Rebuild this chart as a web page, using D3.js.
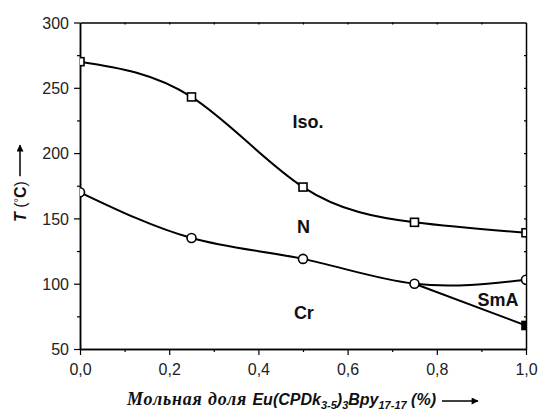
<!DOCTYPE html>
<html>
<head>
<meta charset="utf-8">
<script src="https://cdn.jsdelivr.net/npm/d3@7"></script>
<style>
  body { margin: 0; background: #fff; }
  svg { display: block; }
</style>
</head>
<body>
<div id="chart"></div>
<script>
// Mole fraction of the Eu complex
const fractions = [0, 0.25, 0.5, 0.75, 1.0];
// Clearing line (N -> Iso), squares
const clearTemps = [270, 243, 174, 147, 139];
// Melting line (Cr -> N / SmA), circles
const meltTemps = [170, 135, 119, 100, 103];
// Cr -> SmA line, ends with a filled square
const smaFractions = [0.75, 1.0];
const smaTemps = [100, 68];

const xTicks = [0, 0.2, 0.4, 0.6, 0.8, 1.0];
const yTicks = [50, 100, 150, 200, 250, 300];
const phaseNames = ["Iso.", "N", "Cr", "SmA"];
const phaseFractions = [0.511, 0.501, 0.502, 0.937];
const phaseTemps = [219, 139, 73, 83];

const W = 541, H = 410;
const margin = { top: 22.5, right: 15, bottom: 61, left: 80 };
const innerW = W - margin.left - margin.right;
const innerH = H - margin.top - margin.bottom;

const svg = d3.select("#chart").append("svg")
    .attr("width", W)
    .attr("height", H);

const x = d3.scaleLinear().domain([0, 1]).range([margin.left, margin.left + innerW]);
const y = d3.scaleLinear().domain([50, 300]).range([margin.top + innerH, margin.top]);

const fmt = d => d3.format(".1f")(d).replace(".", ",");
const labelFont = "Arial, 'Liberation Sans', sans-serif";

// Minor ticks halfway between the majors
const xMinor = d3.range(0.1, 1, 0.2);
const yMinor = d3.range(75, 300, 50);

// Bottom axis
const xAxis = svg.append("g")
    .attr("transform", `translate(0,${y(50)})`)
    .call(d3.axisBottom(x).tickValues(xTicks).tickFormat(fmt).tickSize(6).tickSizeOuter(0));
svg.append("g")
    .attr("transform", `translate(0,${y(50)})`)
    .call(d3.axisBottom(x).tickValues(xMinor).tickFormat("").tickSize(3).tickSizeOuter(0));

// Left axis
const yAxis = svg.append("g")
    .attr("transform", `translate(${x(0)},0)`)
    .call(d3.axisLeft(y).tickValues(yTicks).tickFormat(d3.format("d")).tickSize(6).tickSizeOuter(0));
svg.append("g")
    .attr("transform", `translate(${x(0)},0)`)
    .call(d3.axisLeft(y).tickValues(yMinor).tickFormat("").tickSize(3).tickSizeOuter(0));

// Top and right: frame with small inward ticks
svg.append("g")
    .attr("transform", `translate(0,${y(300)})`)
    .call(d3.axisBottom(x).tickValues(d3.range(0.1, 1, 0.1)).tickFormat("").tickSize(2).tickSizeOuter(0));
svg.append("g")
    .attr("transform", `translate(${x(1)},0)`)
    .call(d3.axisRight(y).tickValues(d3.range(75, 300, 25)).tickFormat("").tickSize(-2).tickSizeOuter(0));

svg.selectAll(".domain").attr("stroke", "#000").attr("stroke-width", 1.5);
svg.selectAll(".tick line").attr("stroke", "#000").attr("stroke-width", 1.2);
svg.selectAll(".tick text")
    .attr("font-family", labelFont)
    .attr("font-size", 16)
    .attr("fill", "#222");
xAxis.selectAll(".tick text").attr("dy", "1.05em");
yAxis.selectAll(".tick text").attr("x", -11).attr("dy", "0.36em");

// Clip for lines and markers (markers on the frame are cut in half)
svg.append("clipPath").attr("id", "plot-clip")
    .append("rect")
    .attr("x", x(0)).attr("y", y(300))
    .attr("width", x(1) - x(0)).attr("height", y(50) - y(300));

const plot = svg.append("g").attr("clip-path", "url(#plot-clip)");

const smooth = d3.line()
    .x(d => x(d[0]))
    .y(d => y(d[1]))
    .curve(d3.curveNatural);
const straight = d3.line()
    .x(d => x(d[0]))
    .y(d => y(d[1]));

const clearPts = fractions.map((f, i) => [f, clearTemps[i]]);
const meltPts = fractions.map((f, i) => [f, meltTemps[i]]);
const smaPts = smaFractions.map((f, i) => [f, smaTemps[i]]);

plot.append("path").attr("d", smooth(clearPts))
    .attr("fill", "none").attr("stroke", "#000").attr("stroke-width", 2);
plot.append("path").attr("d", smooth(meltPts))
    .attr("fill", "none").attr("stroke", "#000").attr("stroke-width", 2);
plot.append("path").attr("d", straight(smaPts))
    .attr("fill", "none").attr("stroke", "#000").attr("stroke-width", 2);

// Open squares on the clearing line
plot.selectAll(".sq")
    .data(clearPts)
    .enter()
    .append("rect")
    .attr("x", d => x(d[0]) - 4)
    .attr("y", d => y(d[1]) - 4)
    .attr("width", 8).attr("height", 8)
    .attr("fill", "#fff").attr("stroke", "#000").attr("stroke-width", 1.6);

// Open circles on the melting line
plot.selectAll(".ci")
    .data(meltPts)
    .enter()
    .append("circle")
    .attr("cx", d => x(d[0]))
    .attr("cy", d => y(d[1]))
    .attr("r", 4.5)
    .attr("fill", "#fff").attr("stroke", "#000").attr("stroke-width", 1.6);

// Filled square at the end of the Cr-SmA line
plot.append("rect")
    .datum(smaPts[1])
    .attr("x", d => x(d[0]) - 4)
    .attr("y", d => y(d[1]) - 4)
    .attr("width", 8).attr("height", 8)
    .attr("fill", "#000").attr("stroke", "#000").attr("stroke-width", 1.6);

// Phase region labels
svg.selectAll(".phase")
    .data(phaseNames)
    .enter()
    .append("text")
    .attr("x", (d, i) => x(phaseFractions[i]))
    .attr("y", (d, i) => y(phaseTemps[i]))
    .attr("text-anchor", "middle")
    .attr("font-family", labelFont)
    .attr("font-weight", "bold")
    .attr("font-size", 18)
    .attr("fill", "#111")
    .text(d => d);

// Arrow head marker
svg.append("defs").append("marker")
    .attr("id", "arrow")
    .attr("viewBox", "0 0 10 10")
    .attr("refX", 9).attr("refY", 5)
    .attr("markerWidth", 9).attr("markerHeight", 7)
    .attr("markerUnits", "userSpaceOnUse")
    .attr("orient", "auto")
    .append("path")
    .attr("d", "M0,0L10,5L0,10Z")
    .attr("fill", "#000");

// Y axis title, rotated: T (°C) ->
const yTitle = svg.append("g").attr("transform", "translate(26,222) rotate(-90)");
const yText = yTitle.append("text")
    .attr("font-family", labelFont)
    .attr("font-size", 16)
    .attr("fill", "#111");
yText.append("tspan").attr("font-weight", "bold").attr("font-style", "italic").text("T");
yText.append("tspan").text(" (");
yText.append("tspan").attr("font-size", 11).attr("dy", -4).text("°");
yText.append("tspan").attr("font-weight", "bold").attr("dy", 4).text("C");
yText.append("tspan").text(")");
const yLen = yText.node().getComputedTextLength();
yTitle.append("line")
    .attr("x1", yLen + 5).attr("x2", yLen + 36)
    .attr("y1", -6).attr("y2", -6)
    .attr("stroke", "#000").attr("stroke-width", 1.5)
    .attr("marker-end", "url(#arrow)");

// X axis title
const xTitle = svg.append("g").attr("transform", "translate(127,405)");
const xText = xTitle.append("text")
    .attr("font-size", 16)
    .attr("font-weight", "bold")
    .attr("font-style", "italic")
    .attr("fill", "#111");
xText.append("tspan")
    .attr("font-family", "'Liberation Serif', 'Times New Roman', serif")
    .attr("font-size", 18)
    .attr("letter-spacing", 0.8)
    .text("Мольная доля ");
const sans = (t, sub) => xText.append("tspan")
    .attr("font-family", labelFont)
    .attr("font-size", sub ? 11 : 16)
    .attr("dy", sub ? 4 : -4)
    .text(t);
xText.append("tspan").attr("font-family", labelFont).text("Eu(CPDk");
sans("3-5", true);
sans(")", false);
sans("3", true);
sans("Bpy", false);
sans("17-17", true);
sans(" (%)", false);
const xLen = xText.node().getComputedTextLength();
xTitle.append("line")
    .attr("x1", xLen + 6).attr("x2", xLen + 42)
    .attr("y1", -4).attr("y2", -4)
    .attr("stroke", "#000").attr("stroke-width", 1.5)
    .attr("marker-end", "url(#arrow)");
</script>
</body>
</html>
